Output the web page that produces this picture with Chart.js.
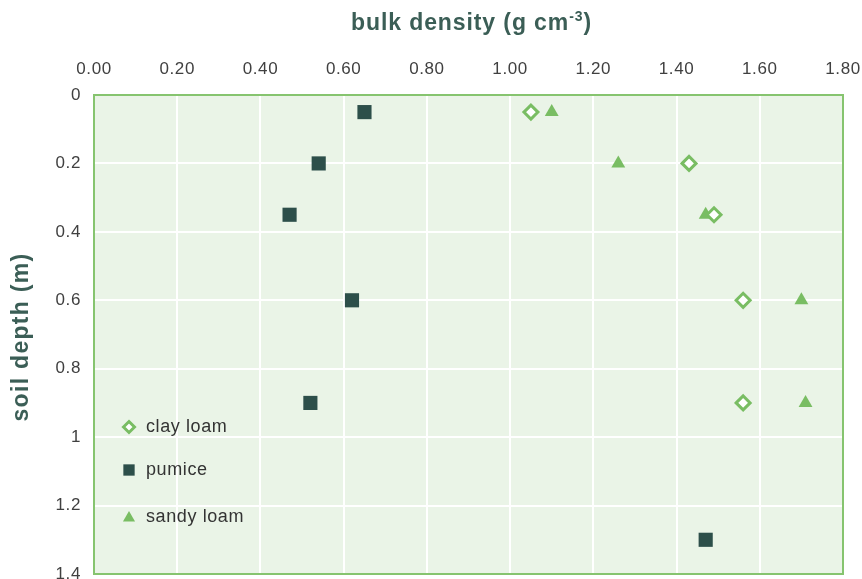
<!DOCTYPE html>
<html>
<head>
<meta charset="utf-8">
<script src="https://cdn.jsdelivr.net/npm/chart.js@4.4.0/dist/chart.umd.min.js"></script>
<style>
  html, body { margin: 0; padding: 0; background: #fff; overflow: hidden; }
  #wrap { width: 862px; height: 579px; overflow: hidden; }
</style>
</head>
<body>
<div id="wrap"><canvas id="mycanvas" width="862" height="584"></canvas></div>
<script>
// depth (m) of each sample
var clayDepth = [0.05, 0.2, 0.35, 0.6, 0.9];
var pumiceDepth = [0.05, 0.2, 0.35, 0.6, 0.9, 1.3];
var sandyDepth = [0.05, 0.2, 0.35, 0.6, 0.9];

// bulk density (g cm-3)
var clayDensity = [1.05, 1.43, 1.49, 1.56, 1.56];
var pumiceDensity = [0.65, 0.54, 0.47, 0.62, 0.52, 1.47];
var sandyDensity = [1.10, 1.26, 1.47, 1.70, 1.71];

var seriesNames = ["clay loam", "pumice", "sandy loam"];

var green = "#79bd63";
var dark = "#2d4f4a";
var titleColor = "#3b5e56";
var fam = "'Liberation Sans', Arial, sans-serif";

function pts(xs, ys) {
	var out = [];
	for (var i in xs) {
		out.push({x: xs[i], y: ys[i]});
	}
	return out;
}

var plotBg = {
	id: "plotBg",
	beforeDraw: function(chart) {
		var a = chart.chartArea, ctx = chart.ctx;
		ctx.letterSpacing = "0.6px";
		ctx.save();
		ctx.fillStyle = "#eaf4e7";
		ctx.fillRect(a.left, a.top, a.right - a.left, a.bottom - a.top);
		ctx.restore();
	},
	beforeDatasetsDraw: function(chart) {
		var a = chart.chartArea, ctx = chart.ctx;
		ctx.save();
		ctx.strokeStyle = "#86c46f";
		ctx.lineWidth = 2;
		ctx.strokeRect(a.left, a.top, a.right - a.left, a.bottom - a.top);
		ctx.restore();
	},
	afterDraw: function(chart) {
		var a = chart.chartArea, ctx = chart.ctx;
		ctx.save();
		// x axis title with superscript
		ctx.letterSpacing = "0.9px";
		var cx = (a.left + a.right) / 2 + 3, base = 30;
		var big = "bold 23px " + fam;
		var small = "bold 14px " + fam;
		ctx.font = big;
		var w1 = ctx.measureText("bulk density (g cm").width;
		var w3 = ctx.measureText(")").width;
		ctx.font = small;
		var w2 = ctx.measureText("-3").width;
		var x0 = cx - (w1 + w2 + w3) / 2;
		ctx.fillStyle = titleColor;
		ctx.textBaseline = "alphabetic";
		ctx.textAlign = "left";
		ctx.font = big;
		ctx.fillText("bulk density (g cm", x0, base);
		ctx.font = small;
		ctx.fillText("-3", x0 + w1, base - 9);
		ctx.font = big;
		ctx.fillText(")", x0 + w1 + w2, base);

		// y axis title
		ctx.save();
		ctx.translate(22, 337);
		ctx.rotate(-Math.PI / 2);
		ctx.textAlign = "center";
		ctx.textBaseline = "middle";
		ctx.letterSpacing = "1.3px";
		ctx.fillText("soil depth (m)", 0, 0);
		ctx.restore();

		// legend inside the plot
		var rows = [427, 470, 517];
		var lx = a.left + 35;
		ctx.letterSpacing = "0.6px";
		chart.data.datasets.forEach(function(ds, i) {
			var style = {
				pointStyle: ds.pointStyle,
				radius: ds.legendRadius,
				borderWidth: ds.borderWidth
			};
			ctx.fillStyle = ds.backgroundColor;
			ctx.strokeStyle = ds.borderColor;
			ctx.lineWidth = ds.borderWidth;
			Chart.helpers.drawPoint(ctx, style, lx, rows[i] + (ds.pointStyle === "triangle" ? 1 : 0));
			ctx.font = "18px " + fam;
			ctx.fillStyle = "#333333";
			ctx.textAlign = "left";
			ctx.textBaseline = "middle";
			ctx.fillText(ds.label, lx + 17, rows[i]);
		});
		ctx.restore();
	}
};

var chartdata = {
	datasets: [
		{
			label: seriesNames[0],
			data: pts(clayDensity, clayDepth),
			pointStyle: "rectRot",
			pointRadius: 7,
			legendRadius: 5.5,
			backgroundColor: "#ffffff",
			borderColor: green,
			borderWidth: 3
		},
		{
			label: seriesNames[1],
			data: pts(pumiceDensity, pumiceDepth),
			pointStyle: "rect",
			pointRadius: 10,
			legendRadius: 8,
			backgroundColor: dark,
			borderColor: dark,
			borderWidth: 0
		},
		{
			label: seriesNames[2],
			data: pts(sandyDensity, sandyDepth),
			pointStyle: "triangle",
			pointRadius: 8,
			legendRadius: 7,
			backgroundColor: green,
			borderColor: green,
			borderWidth: 0
		}
	]
};

var tickFont = {family: fam, size: 17};

var ctx = document.getElementById("mycanvas");
var LineGraph = new Chart(ctx, {
	type: "scatter",
	data: chartdata,
	plugins: [plotBg],
	options: {
		responsive: false,
		animation: false,
		layout: {padding: {top: 0, right: 19, bottom: 0, left: 0}},
		plugins: {
			legend: {display: false},
			tooltip: {enabled: false}
		},
		scales: {
			x: {
				position: "top",
				min: 0,
				max: 1.8,
				afterFit: function(scale) {
					scale.height = 95;
					scale.paddingLeft = 0;
					scale.paddingRight = 0;
				},
				ticks: {
					stepSize: 0.2,
					autoSkip: false,
					maxRotation: 0,
					padding: 15,
					color: "#404040",
					font: tickFont,
					callback: function(v) { return Number(v).toFixed(2); }
				},
				grid: {color: "#ffffff", lineWidth: 2, drawTicks: false},
				border: {display: false}
			},
			y: {
				reverse: true,
				min: 0,
				max: 1.4,
				afterFit: function(scale) {
					scale.width = 94;
					scale.paddingTop = 0;
					scale.paddingBottom = 0;
				},
				ticks: {
					stepSize: 0.2,
					autoSkip: false,
					padding: 13,
					color: "#404040",
					font: tickFont,
					callback: function(v) { return String(Number(Number(v).toFixed(1))); }
				},
				grid: {color: "#ffffff", lineWidth: 2, drawTicks: false},
				border: {display: false}
			}
		}
	}
});
</script>
</body>
</html>
